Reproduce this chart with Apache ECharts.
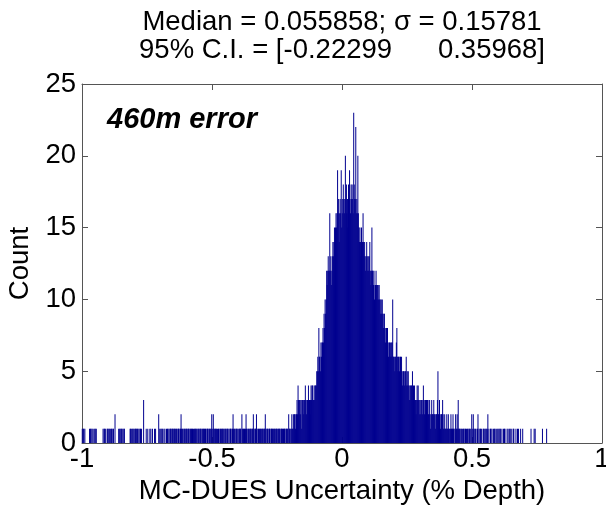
<!DOCTYPE html>
<html>
<head>
<meta charset="utf-8">
<script src="https://cdn.jsdelivr.net/npm/echarts@6/dist/echarts.min.js"></script>
<style>
html,body{margin:0;padding:0;background:#fff;}
#chart{width:606px;height:506px;}
</style>
</head>
<body>
<div id="chart"></div>
<script>
// Histogram bins: width 0.002 starting at -1
const binStart = -1.0;
const binWidth = 0.002;

// -1.000 .. -0.200 (rows of 25 bins = 0.05 each)
const leftTailCounts = [
  1,0,1,1,0,1,0,0,0,0,0,0,0,0,1,0,1,1,0,1,0,1,0,0,1,
  1,0,1,0,0,0,0,0,0,0,0,0,0,0,0,1,0,1,1,0,1,0,0,1,1,
  0,1,1,0,1,0,1,1,0,1,1,0,0,2,0,0,0,0,0,0,1,0,1,1,0,
  1,1,0,1,0,1,1,0,0,0,0,0,0,0,0,0,0,1,1,0,1,0,1,1,0,
  1,0,1,1,1,0,1,1,0,1,0,1,1,0,1,0,0,0,3,0,0,0,0,1,0,
  0,1,0,0,0,1,0,1,0,0,1,0,0,0,1,0,1,0,0,0,0,0,2,0,1,
  0,1,0,1,1,0,0,1,0,1,0,0,1,0,1,1,0,1,0,1,1,1,0,1,1,
  1,0,1,1,1,0,1,1,0,1,1,1,0,1,1,2,1,0,1,1,0,1,1,0,1,
  1,1,0,1,1,1,0,1,1,0,1,1,1,0,1,0,1,1,1,0,1,1,0,1,1,
  0,1,1,1,0,1,1,0,1,1,1,0,1,1,0,1,1,1,0,1,1,0,1,1,2,
  1,0,2,1,1,0,1,1,1,0,1,0,1,1,0,1,1,0,1,1,1,0,1,1,0,
  1,1,0,1,1,1,0,1,0,1,1,1,0,1,1,2,1,0,1,1,0,1,1,1,0,
  1,0,1,1,1,1,0,2,1,0,1,1,1,0,1,2,1,1,0,1,1,0,1,1,1,
  0,1,1,1,2,1,0,1,1,1,2,1,0,1,1,0,1,1,1,0,1,1,1,0,1,
  1,1,2,1,0,1,1,1,0,1,1,1,0,1,1,1,1,0,1,1,1,0,1,1,1,
  1,0,1,1,1,1,0,1,1,1,1,0,1,1,1,1,0,1,1,1,1,0,2,1,1
];

// -0.200 .. 0.500
const coreCounts = [
  1,0,1,2,1,1,2,1,2,2,1,2,2,3,2,4,3,2,3,3,2,3,1,3,3,
  3,2,3,3,4,3,2,3,3,3,4,3,3,2,3,4,3,4,4,3,3,4,3,4,4,
  4,5,5,6,5,8,6,6,5,7,6,7,7,8,7,9,8,10,9,10,12,11,12,13,12,
  12,16,12,13,11,12,13,14,13,14,15,14,15,16,15,16,19,16,17,14,16,17,16,19,15,
  17,16,18,17,16,17,20,17,18,16,17,15,18,17,19,17,16,18,17,18,17,16,23,18,17,
  17,22,16,17,16,20,16,15,14,15,14,13,15,14,14,16,14,13,14,13,12,13,14,13,12,
  13,12,13,14,12,11,12,15,12,12,11,12,10,11,11,12,11,10,11,11,10,11,10,10,9,
  10,9,10,9,8,9,9,8,7,8,8,7,8,7,6,7,7,6,7,6,7,7,10,6,6,
  6,5,6,6,7,8,6,5,6,6,5,6,6,5,6,5,4,5,5,5,4,5,5,6,4,
  5,4,5,4,3,4,4,3,4,4,5,3,4,3,4,3,3,2,3,4,3,4,3,3,2,
  3,2,3,3,2,3,4,3,2,3,3,2,3,2,3,3,2,2,3,2,1,2,3,2,2,
  2,3,2,2,1,2,2,2,3,5,2,2,3,2,1,2,2,2,3,2,1,1,2,1,1,
  1,2,1,1,2,1,1,0,1,2,1,1,1,2,1,1,0,1,2,1,1,2,1,3,1,
  1,1,0,1,1,0,1,0,1,1,0,1,1,0,1,0,1,1,0,1,1,0,1,0,2
];

// 0.500 .. 0.800
const rightTailCounts = [
  1,0,2,1,0,1,1,0,0,1,1,2,0,1,0,1,1,0,1,0,0,1,1,0,1,
  0,1,1,0,1,2,0,1,0,0,1,1,0,1,0,0,1,0,1,1,0,0,1,0,1,
  0,1,0,1,1,0,0,1,0,0,1,0,1,1,0,0,0,1,0,1,0,0,1,1,0,
  0,1,0,0,1,1,0,0,0,1,0,0,1,0,1,0,0,0,1,0,0,0,1,0,0,
  0,0,0,0,0,0,0,0,0,0,0,0,0,1,0,0,0,0,0,1,0,1,0,0,0,
  0,0,0,0,0,0,0,0,0,0,1,0,0,0,0,0,0,0,1,0,0,0,0,0,0
];

const xTicks = [-1, -0.5, 0, 0.5, 1];
const yTicks = [0, 5, 10, 15, 20, 25];
const titleLine1 = 'Median = 0.055858; \u03c3 = 0.15781';
const titleLine2 = '95% C.I. = [-0.22299      0.35968]';
const annotation = '460m error';
const xName = 'MC-DUES Uncertainty (% Depth)';
const yName = 'Count';

const counts = leftTailCounts.concat(coreCounts, rightTailCounts);
const histData = counts.map((c, i) => [binStart + (i + 0.5) * binWidth, c]);

const FONT = "'Liberation Sans', Arial, sans-serif";
const FS = 27.5;
const axisColor = '#555';

const chart = echarts.init(document.getElementById('chart'), null, {renderer: 'canvas'});
const commonX = {
  type: 'value', min: xTicks[0], max: xTicks[xTicks.length - 1], interval: 0.5,
  splitLine: {show: false},
  axisLine: {show: true, onZero: false, lineStyle: {color: axisColor, width: 1}},
  axisTick: {show: true, inside: true, length: 6, lineStyle: {color: axisColor}}
};
const commonY = {
  type: 'value', min: yTicks[0], max: yTicks[yTicks.length - 1], interval: 5,
  splitLine: {show: false},
  axisLine: {show: true, onZero: false, lineStyle: {color: axisColor, width: 1}},
  axisTick: {show: true, inside: true, length: 6, lineStyle: {color: axisColor}}
};

chart.setOption({
  animation: false,
  backgroundColor: '#fff',
  grid: {left: 82, right: 4, top: 84, bottom: 63, containLabel: false, outerBoundsMode: 'none'},
  xAxis: [
    Object.assign({}, commonX, {
      position: 'bottom',
      axisLabel: {show: true, color: '#000', fontSize: FS, fontFamily: FONT, margin: 2,
        formatter: v => String(v)},
      name: xName, nameLocation: 'middle', nameGap: 34,
      nameTextStyle: {color: '#000', fontSize: FS, fontFamily: FONT, verticalAlign: 'top'}
    }),
    Object.assign({}, commonX, {position: 'top', axisLabel: {show: false}})
  ],
  yAxis: [
    Object.assign({}, commonY, {
      position: 'left',
      axisLabel: {show: true, color: '#000', fontSize: FS, fontFamily: FONT, margin: 6},
      name: yName, nameLocation: 'middle', nameGap: 43, nameRotate: 90,
      nameTextStyle: {color: '#000', fontSize: FS, fontFamily: FONT}
    }),
    Object.assign({}, commonY, {position: 'right', axisLabel: {show: false}})
  ],
  series: [{
    type: 'bar',
    xAxisIndex: 0, yAxisIndex: 0,
    data: histData,
    barWidth: 0.8,
    barGap: '-100%',
    itemStyle: {color: '#00008f'},
    silent: true,
    large: false
  }],
  graphic: [
    {type: 'text', x: 342, y: 8, style: {text: titleLine1, font: FS + 'px ' + FONT, fill: '#000', align: 'center', verticalAlign: 'top'}},
    {type: 'text', x: 342, y: 36, style: {text: titleLine2, font: FS + 'px ' + FONT, fill: '#000', align: 'center', verticalAlign: 'top'}},
    {type: 'text', x: 107, y: 105, style: {text: annotation, font: 'italic bold 29px ' + FONT, fill: '#000', align: 'left', verticalAlign: 'top'}}
  ]
});
</script>
</body>
</html>
